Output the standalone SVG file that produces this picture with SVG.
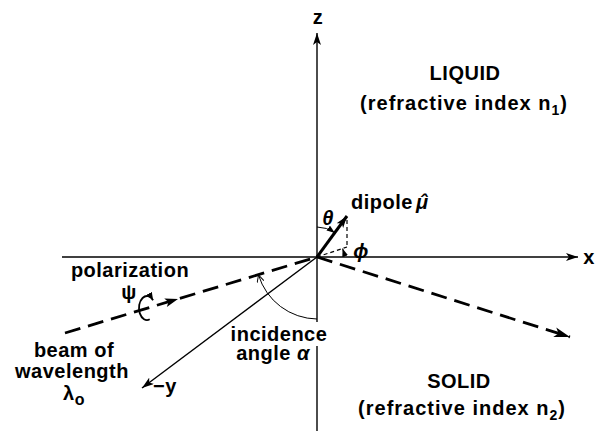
<svg xmlns="http://www.w3.org/2000/svg" width="598" height="431" viewBox="0 0 598 431">
<style>
.t{font-family:"Liberation Sans",Arial,Helvetica,sans-serif;font-size:20px;font-weight:bold;letter-spacing:0.5px;fill:#000}
.m{text-anchor:middle}
.i{font-style:italic}
.w{letter-spacing:1px}
.ax{stroke:#000;stroke-width:1.4;fill:none}
.beam{stroke:#000;stroke-width:2.8;fill:none;stroke-dasharray:16 8}
.thin{stroke:#000;stroke-width:1;fill:none}
.dsh{stroke:#000;stroke-width:1.2;fill:none;stroke-dasharray:4 3}
</style>
<defs>
<marker id="ah" viewBox="0 0 12 8" refX="12" refY="4" markerWidth="12" markerHeight="8" orient="auto" markerUnits="userSpaceOnUse"><path d="M0,0 L12,4 L0,8 L3,4 z" fill="#000"/></marker>
<marker id="big" viewBox="0 0 16 10" refX="16" refY="5" markerWidth="16" markerHeight="10" orient="auto" markerUnits="userSpaceOnUse"><path d="M0,0 L16,5 L0,10 L4,5 z" fill="#000"/></marker>
<marker id="sm" viewBox="0 0 8 6" refX="8" refY="3" markerWidth="8" markerHeight="6" orient="auto" markerUnits="userSpaceOnUse"><path d="M0,0 L8,3 L0,6 z" fill="#000"/></marker>
<marker id="open" viewBox="0 0 8 8" refX="7" refY="4" markerWidth="8" markerHeight="8" orient="auto" markerUnits="userSpaceOnUse"><path d="M0,0.5 L7,4 L0,7.5" fill="none" stroke="#000" stroke-width="1"/></marker>
</defs>
<g id="connectors">
<line id="x-axis" class="ax" x1="62" y1="257" x2="578" y2="257" marker-end="url(#ah)"/>
<line id="z-axis-up" class="ax" x1="317" y1="322" x2="317" y2="33" marker-end="url(#ah)"/>
<line id="z-axis-down" class="ax" x1="317" y1="346" x2="317" y2="431"/>
<line id="y-axis" class="ax" x1="317" y1="257" x2="142" y2="388" stroke-width="1.2" marker-end="url(#ah)"/>
<line id="incident-beam" class="beam" x1="65" y1="333" x2="317" y2="257"/>
<path id="beam-arrow" d="M-13,-4.5 L0,0 L-13,4.5 L-10,0 z" transform="translate(178,299) rotate(-16.8)" fill="#000"/>
<line id="outgoing-beam" class="beam" x1="317" y1="257" x2="570" y2="337" marker-end="url(#big)"/>
<path id="polarization-curl" d="M149.7,319.3 A8,12 0 1,1 153.1,300.3" fill="none" stroke="#000" stroke-width="1.8" marker-end="url(#sm)"/>
<line id="dipole-arrow" x1="317" y1="257" x2="347" y2="216" stroke="#000" stroke-width="3" marker-end="url(#ah)"/>
<line id="dipole-vertical" class="dsh" x1="347" y1="220" x2="347" y2="247"/>
<line id="dipole-projection" class="dsh" x1="317" y1="257" x2="347" y2="247"/>
<path id="theta-arc" class="thin" d="M317,227 A30,30 0 0,1 334.7,232.8" marker-end="url(#sm)"/>
<path id="phi-arc" class="thin" d="M344,257 A27,27 0 0,0 342.6,248.5" marker-end="url(#sm)"/>
<path id="incidence-arc" class="thin" d="M317,319 A62,62 0 0,1 258.5,275" marker-end="url(#open)"/>
</g>
<g id="label-z"><text class="t m" x="318" y="24">z</text></g>
<g id="label-x"><text class="t m" x="589" y="264">x</text></g>
<g id="label-y"><text class="t" x="153" y="393">−y</text></g>
<g id="liquid"><text class="t m" x="465" y="80">LIQUID</text>
<text class="t m w" x="464" y="110">(refractive index n<tspan font-size="14" dy="5">1</tspan><tspan dy="-5">)</tspan></text></g>
<g id="solid"><text class="t m" x="459" y="388">SOLID</text>
<text class="t m w" x="462" y="415">(refractive index n<tspan font-size="14" dy="5">2</tspan><tspan dy="-5">)</tspan></text></g>
<g id="dipole"><text class="t" x="351" y="209">dipole</text>
<text class="t i" x="416" y="209">μ<tspan dx="-8.5">ˆ</tspan></text></g>
<g id="theta"><text class="t i m" x="328" y="225">θ</text></g>
<g id="phi"><text class="t i m" x="361" y="258">ϕ</text></g>
<g id="polarization"><text class="t m" x="130" y="277">polarization</text>
<text class="t m" x="129" y="299">ψ</text></g>
<g id="incidence"><text class="t m" x="279" y="341">incidence</text>
<text class="t m" x="273" y="360">angle <tspan class="i">α</tspan></text></g>
<g id="beam"><text class="t m" x="74" y="357">beam of</text>
<text class="t m" x="72" y="378">wavelength</text>
<text class="t" x="63" y="400">λ<tspan font-size="16" dy="5">o</tspan></text></g>
</svg>
